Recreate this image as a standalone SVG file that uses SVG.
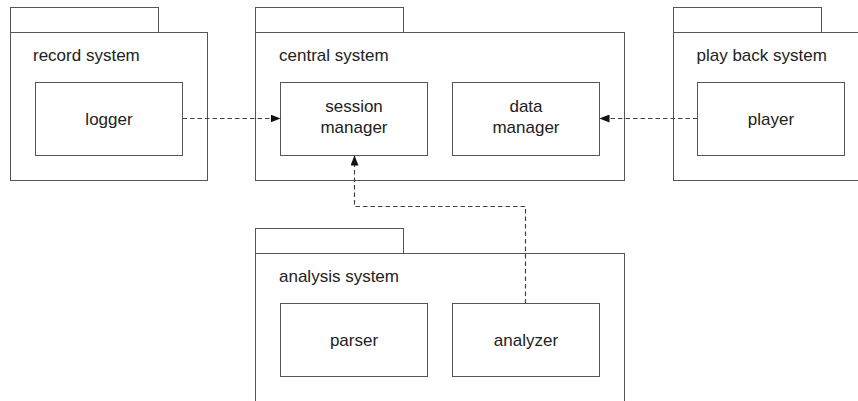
<svg xmlns="http://www.w3.org/2000/svg" width="858" height="401" viewBox="0 0 858 401">
<defs>
<style>
.pkg{fill:#fff;stroke:#555;stroke-width:1}
.box{fill:#fff;stroke:#555;stroke-width:1}
.lbl{font-family:"Liberation Sans",Arial,sans-serif;font-size:17px;fill:#222}
.ctr{text-anchor:middle}
.dep{fill:none;stroke:#444;stroke-width:1.2;stroke-dasharray:4.5,3}
</style>
<marker id="arr" markerWidth="10" markerHeight="8" refX="10" refY="4" orient="auto" markerUnits="userSpaceOnUse">
<path d="M0,0 L10,4 L0,8 Z" fill="#111"/>
</marker>
</defs>
<rect width="858" height="401" fill="#fff"/>
<g id="record-system">
<rect class="pkg" x="10.5" y="7.5" width="148" height="25"/>
<rect class="pkg" x="10.5" y="32.5" width="197" height="148"/>
<text class="lbl" x="33" y="60.5">record system</text>
</g>
<g id="logger">
<rect class="box" x="35.5" y="82.5" width="147" height="73"/>
<text class="lbl ctr" x="109" y="124.5">logger</text>
</g>
<g id="central-system">
<rect class="pkg" x="255.5" y="7.5" width="148" height="25"/>
<rect class="pkg" x="255.5" y="32.5" width="369" height="148"/>
<text class="lbl" x="279" y="60.5">central system</text>
</g>
<g id="session-manager">
<rect class="box" x="280.5" y="82.5" width="147" height="73"/>
<text class="lbl ctr" x="354" y="112">session</text>
<text class="lbl ctr" x="354" y="133">manager</text>
</g>
<g id="data-manager">
<rect class="box" x="452.5" y="82.5" width="147" height="73"/>
<text class="lbl ctr" x="526" y="112">data</text>
<text class="lbl ctr" x="526" y="133">manager</text>
</g>
<g id="play-back-system">
<rect class="pkg" x="673.5" y="7.5" width="148" height="25"/>
<rect class="pkg" x="673.5" y="32.5" width="197" height="148"/>
<text class="lbl" x="696.5" y="60.5">play back system</text>
</g>
<g id="player">
<rect class="box" x="697.5" y="82.5" width="147" height="73"/>
<text class="lbl ctr" x="771" y="124.5">player</text>
</g>
<g id="analysis-system">
<rect class="pkg" x="255.5" y="228.5" width="148" height="25"/>
<rect class="pkg" x="255.5" y="253.5" width="369" height="150"/>
<text class="lbl" x="279" y="282">analysis system</text>
</g>
<g id="parser">
<rect class="box" x="280.5" y="303.5" width="147" height="73"/>
<text class="lbl ctr" x="354" y="345.5">parser</text>
</g>
<g id="analyzer">
<rect class="box" x="452.5" y="303.5" width="147" height="73"/>
<text class="lbl ctr" x="526" y="345.5">analyzer</text>
</g>
<g id="connectors">
<path class="dep" d="M182.5,118.5 H280.5" marker-end="url(#arr)"/>
<path class="dep" d="M697.5,118.5 H599.5" marker-end="url(#arr)"/>
<path class="dep" d="M525.5,303.5 V206.5 H354.5 V155.5" marker-end="url(#arr)"/>
</g>
</svg>
